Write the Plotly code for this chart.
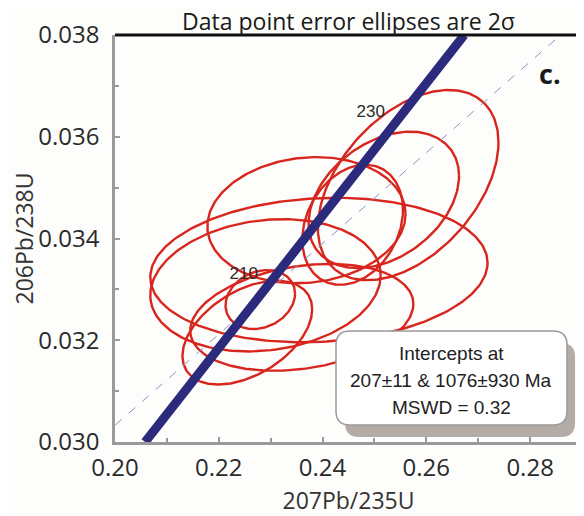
import numpy as np
import plotly.graph_objects as go

# ---- data ----
# error ellipses (2 sigma): centre, half-widths, correlation
ell_x = [0.2565, 0.2518, 0.2458, 0.2369, 0.2393, 0.2290, 0.2280, 0.2360, 0.2255]
ell_y = [0.03505, 0.03476, 0.03427, 0.03436, 0.03338, 0.03308, 0.03280, 0.03245, 0.03215]
ell_sx = [0.0174, 0.0145, 0.0097, 0.0191, 0.0325, 0.0222, 0.0067, 0.0215, 0.0125]
ell_sy = [0.00187, 0.00134, 0.00118, 0.00124, 0.00142, 0.00130, 0.00058, 0.00105, 0.00102]
ell_rho = [0.45, 0.35, 0.25, 0.1, 0.1, 0.15, 0.2, 0.25, 0.45]

# discordia regression line
disc_x = [0.2058, 0.2673]
disc_y = [0.030, 0.038]
# concordia (dashed)
conc_x = [0.20, 0.2859]
conc_y = [0.03033, 0.038]
# concordia age labels
age_labels = ["210", "230"]
age_x = [0.2248, 0.2493]
age_y = [0.03328, 0.03647]

x_ticks = [0.20, 0.22, 0.24, 0.26, 0.28]
y_ticks = [0.030, 0.032, 0.034, 0.036, 0.038]

box_lines = ["Intercepts at", "207±11 & 1076±930 Ma", "MSWD = 0.32"]

fig = go.Figure()

t = np.linspace(0, 2 * np.pi, 240)
for cx, cy, sx, sy, r in zip(ell_x, ell_y, ell_sx, ell_sy, ell_rho):
    xs = cx + sx * np.cos(t)
    ys = cy + sy * (r * np.cos(t) + np.sqrt(1 - r * r) * np.sin(t))
    fig.add_trace(go.Scatter(x=xs, y=ys, mode="lines",
                             line=dict(color="#d8261e", width=2.4),
                             hoverinfo="skip", showlegend=False))

fig.add_trace(go.Scatter(x=conc_x, y=conc_y, mode="lines",
                         line=dict(color="#8f92c8", width=1, dash="dash"),
                         showlegend=False))
fig.add_trace(go.Scatter(x=disc_x, y=disc_y, mode="lines",
                         line=dict(color="#2c2a7c", width=9),
                         showlegend=False))
fig.add_trace(go.Scatter(x=age_x, y=age_y, mode="text", text=age_labels,
                         textfont=dict(family="Liberation Sans", size=17, color="#2a2a2a"),
                         showlegend=False))

# page body adds an 8px offset; plot area on screen: x 115..582, y 35..442
OFF = 8
W, H = 584 - OFF, 516 - OFF
L, R, T, B = 115 - OFF, 2, 35 - OFF, 74
PX0, PX1, PY0, PY1 = 115, 582, 35, 442
pw, ph = PX1 - PX0, PY1 - PY0


def px2paper(px, py):
    return (px - PX0) / pw, (PY1 - py) / ph


def rrect(x0, y0, x1, y1, r):
    a0, b1 = px2paper(x0, y0)
    a1, b0 = px2paper(x1, y1)
    rx, ry = r / pw, r / ph
    return (f"M {a0+rx},{b1} L {a1-rx},{b1} Q {a1},{b1} {a1},{b1-ry} "
            f"L {a1},{b0+ry} Q {a1},{b0} {a1-rx},{b0} L {a0+rx},{b0} "
            f"Q {a0},{b0} {a0},{b0+ry} L {a0},{b1-ry} Q {a0},{b1} {a0+rx},{b1} Z")


shapes = [
    dict(type="path", xref="paper", yref="paper", path=rrect(345, 343, 575, 437, 14),
         fillcolor="#b3aca6", line=dict(width=0), layer="above"),
    dict(type="path", xref="paper", yref="paper", path=rrect(336, 331, 567, 425, 14),
         fillcolor="#ffffff", line=dict(color="#9a9a9a", width=1.5), layer="above"),
    dict(type="line", xref="paper", yref="paper", x0=0, x1=1, y0=1, y1=1,
         line=dict(color="#111111", width=3)),
    dict(type="line", xref="paper", yref="paper", x0=1, x1=1, y0=0, y1=1,
         line=dict(color="#111111", width=3)),
]

annotations = []
bx, _ = px2paper(451, 0)
for i, s in enumerate(box_lines):
    _, by = px2paper(0, 353 + 27 * i)
    annotations.append(dict(xref="paper", yref="paper", x=bx, y=by, text=s,
                            showarrow=False, xanchor="center", yanchor="middle",
                            font=dict(family="Liberation Sans", size=19, color="#222222")))
cx_, cy_ = px2paper(550, 74)
annotations.append(dict(xref="paper", yref="paper", x=cx_, y=cy_, text="<b>c.</b>",
                        showarrow=False, xanchor="center", yanchor="middle",
                        font=dict(family="Open Sans", size=27, color="#1a1a1a")))

axis_common = dict(showline=True, linecolor="#9a9a9a", linewidth=2.5, ticks="inside",
                   ticklen=5, tickcolor="#9a9a9a", tickwidth=1.5, showgrid=False,
                   zeroline=False,
                   tickfont=dict(family="Open Sans", size=24, color="#2a2a2a"))

fig.update_layout(
    width=W, height=H,
    margin=dict(l=L, r=R, t=T, b=B, autoexpand=False),
    paper_bgcolor="#fdfdfb", plot_bgcolor="#fdfdfb",
    shapes=shapes, annotations=annotations, showlegend=False,
    title=dict(text="Data point error ellipses are 2σ", x=0.5, xanchor="center",
               xref="paper", y=1 - 14 / H, yanchor="middle",
               font=dict(family="Open Sans", size=23, color="#1a1a1a")),
    xaxis=dict(range=[0.20, 0.29], tickvals=x_ticks,
               ticktext=[f"{v:.2f}" for v in x_ticks],
               minor=dict(dtick=0.01, ticks="inside", ticklen=4, tickcolor="#9a9a9a"),
               ticklabelstandoff=2,
               title=dict(text="207Pb/235U", standoff=14,
                          font=dict(family="Open Sans", size=23, color="#333333")),
               **axis_common),
    yaxis=dict(range=[0.030, 0.038], tickvals=y_ticks,
               ticktext=[f"{v:.3f}" for v in y_ticks],
               minor=dict(dtick=0.001, ticks="inside", ticklen=4, tickcolor="#9a9a9a"),
               ticklabelstandoff=8,
               title=dict(text="206Pb/238U", standoff=12,
                          font=dict(family="Open Sans", size=23, color="#333333")),
               **axis_common),
)

fig.write_html("out.html")
